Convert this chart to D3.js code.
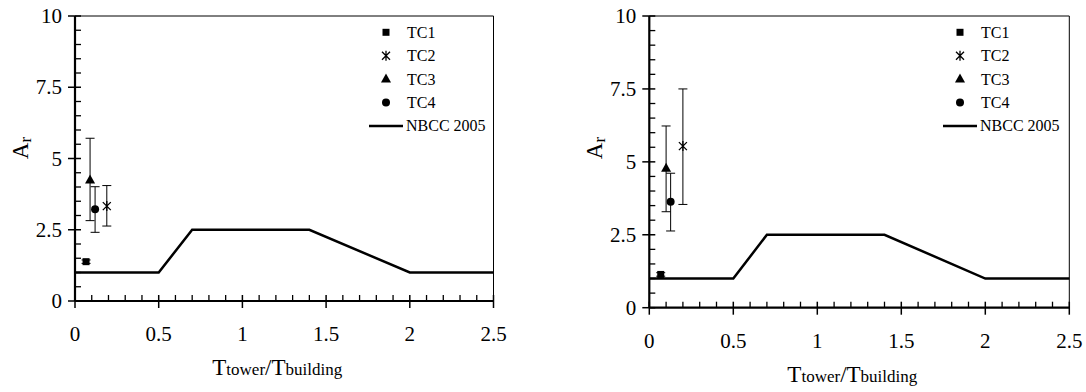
<!DOCTYPE html>
<html>
<head>
<meta charset="utf-8">
<script src="https://cdn.jsdelivr.net/npm/d3@7"></script>
<style>
  body { margin: 0; background: #fff; }
  svg text { font-family: "Liberation Serif", "DejaVu Serif", serif; }
</style>
</head>
<body>
<svg width="1086" height="392"></svg>
<script>
// DATA
var xTicks = [0, 0.5, 1, 1.5, 2, 2.5];
var yTicks = [0, 2.5, 5, 7.5, 10];
var cases = ["TC1", "TC2", "TC3", "TC4"];
var symbols = ["square", "star", "triangle", "circle"];

var nbccX = [0, 0.5, 0.7, 1.4, 2, 2.5];
var nbccY = [1, 1, 2.5, 2.5, 1, 1];

var leftX  = [0.066, 0.19, 0.09, 0.12];
var leftY  = [1.38, 3.33, 4.25, 3.22];
var leftLo = [1.32, 2.63, 2.82, 2.41];
var leftHi = [1.44, 4.05, 5.71, 4.01];

var rightX  = [0.068, 0.20, 0.10, 0.127];
var rightY  = [1.14, 5.54, 4.78, 3.63];
var rightLo = [1.08, 3.54, 3.29, 2.63];
var rightHi = [1.20, 7.50, 6.23, 4.61];

var FONT = "Liberation Serif";
var svg = d3.select("svg");

function drawMarker(g, kind, cx, cy) {
  if (kind == "square") {
    g.append("rect").attr("x", cx - 3.5).attr("y", cy - 3.5).attr("width", 7).attr("height", 7).attr("fill", "#000");
  } else if (kind == "triangle") {
    g.append("path").attr("d", "M" + cx + "," + (cy - 5.5) + "L" + (cx + 5) + "," + (cy + 3.5) + "L" + (cx - 5) + "," + (cy + 3.5) + "Z").attr("fill", "#000");
  } else if (kind == "circle") {
    g.append("circle").attr("cx", cx).attr("cy", cy).attr("r", 4).attr("fill", "#000");
  } else {
    var s = 4;
    g.append("path")
      .attr("d", "M" + (cx - s) + "," + (cy - s) + "L" + (cx + s) + "," + (cy + s) +
                 "M" + (cx + s) + "," + (cy - s) + "L" + (cx - s) + "," + (cy + s) +
                 "M" + cx + "," + (cy - s - 1) + "L" + cx + "," + (cy + s + 1))
      .attr("stroke", "#000").attr("stroke-width", 1.3).attr("fill", "none");
  }
}

function drawPanel(p) {
  var x = d3.scaleLinear().domain([0, 2.5]).range([p.left, p.right]);
  var y = d3.scaleLinear().domain([0, 10]).range([p.bottom, p.top]);
  var g = svg.append("g").attr("font-family", FONT);

  // frame (top + right thin)
  g.append("path")
    .attr("d", "M" + p.left + "," + p.top + "H" + p.right + "V" + p.bottom)
    .attr("stroke", "#000").attr("stroke-width", 1).attr("fill", "none");

  // minor ticks
  var xMinor = d3.range(0, 2.51, 0.1).filter(function(v) { return Math.abs(v * 2 - Math.round(v * 2)) > 1e-6; });
  var yMinor = d3.range(0, 10.01, 0.5).filter(function(v) { return Math.abs(v / 2.5 - Math.round(v / 2.5)) > 1e-6; });
  xMinor.forEach(function(v) {
    g.append("line").attr("x1", x(v)).attr("x2", x(v)).attr("y1", p.bottom).attr("y2", p.bottom - 6)
      .attr("stroke", "#000").attr("stroke-width", 1.3);
  });
  yMinor.forEach(function(v) {
    g.append("line").attr("x1", p.left).attr("x2", p.left + 6).attr("y1", y(v)).attr("y2", y(v))
      .attr("stroke", "#000").attr("stroke-width", 1.3);
  });

  // major ticks + labels
  xTicks.forEach(function(v) {
    g.append("line").attr("x1", x(v)).attr("x2", x(v)).attr("y1", p.bottom - 6).attr("y2", p.bottom + 7)
      .attr("stroke", "#000").attr("stroke-width", 1.5);
    g.append("text").attr("x", x(v)).attr("y", p.bottom + 40).attr("text-anchor", "middle")
      .attr("font-family", FONT).attr("font-size", 21).text(v);
  });
  yTicks.forEach(function(v) {
    g.append("line").attr("x1", p.left - 7).attr("x2", p.left + 6).attr("y1", y(v)).attr("y2", y(v))
      .attr("stroke", "#000").attr("stroke-width", 1.5);
    g.append("text").attr("x", p.left - 13).attr("y", y(v) + 7).attr("text-anchor", "end")
      .attr("font-family", FONT).attr("font-size", 21).text(v);
  });

  // axis lines
  g.append("line").attr("x1", p.left).attr("x2", p.right).attr("y1", p.bottom).attr("y2", p.bottom)
    .attr("stroke", "#000").attr("stroke-width", 2.2);
  g.append("line").attr("x1", p.left).attr("x2", p.left).attr("y1", p.top).attr("y2", p.bottom)
    .attr("stroke", "#000").attr("stroke-width", 2.2);

  // NBCC 2005 line
  var line = d3.line().x(function(d) { return x(d[0]); }).y(function(d) { return y(d[1]); });
  g.append("path").datum(d3.zip(nbccX, nbccY)).attr("d", line)
    .attr("stroke", "#000").attr("stroke-width", 2.5).attr("fill", "none");

  // error bars + markers
  for (var i = 0; i < cases.length; i++) {
    var cx = x(p.xs[i]);
    g.append("line").attr("x1", cx).attr("x2", cx).attr("y1", y(p.lo[i])).attr("y2", y(p.hi[i]))
      .attr("stroke", "#000").attr("stroke-width", 1);
    [p.lo[i], p.hi[i]].forEach(function(v) {
      g.append("line").attr("x1", cx - 4.5).attr("x2", cx + 4.5).attr("y1", y(v)).attr("y2", y(v))
        .attr("stroke", "#000").attr("stroke-width", 1);
    });
    drawMarker(g, symbols[i], cx, y(p.ys[i]));
  }

  // legend
  for (var j = 0; j < cases.length; j++) {
    var ly = 32.3 + j * 23.4;
    drawMarker(g, symbols[j], p.legX, ly);
    g.append("text").attr("x", p.legX + 21).attr("y", ly + 5.5)
      .attr("font-family", FONT).attr("font-size", 16).text(cases[j]);
  }
  var ny = 32.3 + 4 * 23.4;
  g.append("line").attr("x1", p.legX - 17).attr("x2", p.legX + 17).attr("y1", ny).attr("y2", ny)
    .attr("stroke", "#000").attr("stroke-width", 2.5);
  g.append("text").attr("x", p.legX + 20).attr("y", ny + 5.5)
    .attr("font-family", FONT).attr("font-size", 16).text("NBCC 2005");

  // axis titles
  var xt = g.append("text").attr("x", (p.left + p.right) / 2 - 7).attr("y", p.bottom + 74)
    .attr("text-anchor", "middle").attr("font-family", FONT).attr("font-size", 23);
  xt.append("tspan").text("T");
  xt.append("tspan").attr("font-size", 17).text("tower");
  xt.append("tspan").text("/T");
  xt.append("tspan").attr("font-size", 17).text("building");

  var yt = g.append("text").attr("transform", "translate(" + (p.left - 47) + ",148) rotate(-90)")
    .attr("text-anchor", "middle").attr("font-family", FONT).attr("font-size", 23);
  yt.append("tspan").text("A");
  yt.append("tspan").attr("font-size", 17).attr("dy", 3).text("r");
}

drawPanel({ left: 75, right: 493.5, top: 16, bottom: 301, legX: 386,
            xs: leftX, ys: leftY, lo: leftLo, hi: leftHi });
drawPanel({ left: 649.3, right: 1069.3, top: 16, bottom: 307.7, legX: 960,
            xs: rightX, ys: rightY, lo: rightLo, hi: rightHi });
</script>
</body>
</html>
